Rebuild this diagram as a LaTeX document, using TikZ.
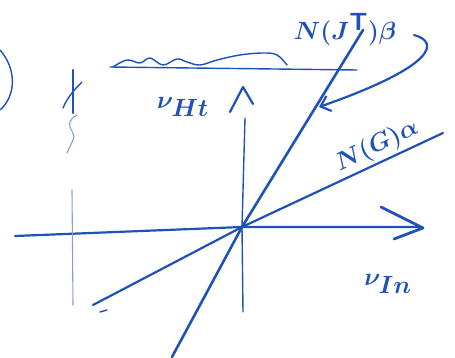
\documentclass[tikz,border=0pt]{standalone}
\usetikzlibrary{arrows.meta}
\definecolor{pen}{RGB}{30,82,182}
\begin{document}
\begin{tikzpicture}[x=1pt,y=-1pt,
  pen/.style={draw=pen, line width=2.2pt, line cap=round, line join=round},
  thinpen/.style={draw=pen, line width=1.4pt, line cap=round, line join=round},
  faintpen/.style={draw=pen!55, line width=1.1pt, line cap=round},
  lbl/.style={text=pen, inner sep=0pt, font=\fontsize{32}{34}\selectfont\boldmath}]
\useasboundingbox (0,0) rectangle (455,358);
% origin
\coordinate (O) at (242,227);
% horizontal axis
\coordinate (xl) at (15,236);
\coordinate (xr) at (420,227);
\draw[pen] (xl) -- (O) -- (xr);
\coordinate (xh1) at (381,207);
\coordinate (xht) at (423,228);
\coordinate (xh2) at (394,239);
\draw[pen, line width=2.8pt] (xh1) -- (xht) -- (xh2);
% vertical axis
\coordinate (yt) at (245,118);
\coordinate (yb) at (243,312);
\draw[thinpen] (yt) -- (O) -- (yb);
\coordinate (yh1) at (230,112);
\coordinate (yht) at (243,87);
\coordinate (yh2) at (253,104);
\draw[pen] (yh1) -- (yht) -- (yh2);
% steep line N(J^T) beta
\coordinate (sb) at (172,357);
\coordinate (st) at (363,30);
\draw[pen, line width=2.6pt] (sb) -- (O) -- (st);
% shallow line N(G) alpha
\coordinate (gb) at (93,305);
\coordinate (gt) at (443,133);
\draw[pen] (gb) -- (O) -- (gt);
% labels
\node[lbl, font=\fontsize{36}{38}\selectfont\boldmath] (jt) at (345,29) {$N(J^{\mathsf T})\beta$};
\node[lbl, rotate=26] (ga) at (377,146) {$N(G)\alpha$};
\node[lbl, font=\fontsize{40}{42}\selectfont\boldmath] (vh) at (183,107) {$\nu_{Ht}$};
\node[lbl, font=\fontsize{40}{42}\selectfont\boldmath] (vi) at (388,284) {$\nu_{In}$};
% curved arrow from label to steep line
\coordinate (as) at (414,35);
\coordinate (ae) at (319,107);
\draw[pen, -{Straight Barb[length=9pt,width=16pt,line width=2.2pt]}] (as) .. controls (440,42) and (436,66) .. (ae);
% top wavy line
\coordinate (wl) at (110,67);
\coordinate (wr) at (357,70);
\draw[thinpen] (wl) -- (wr);
\draw[thinpen] plot[smooth, tension=0.6] coordinates {(113,67) (127,60) (140,63) (150,58) (163,65) (177,59) (187,62) (200,65) (217,60) (240,55) (263,53) (277,55) (287,65)};
% left vertical mark
\coordinate (lt) at (73,70);
\coordinate (lm) at (73,113);
\draw[pen] (lt) -- (lm);
\draw[thinpen] (82,82) .. controls (76,88) and (68,96) .. (63,108);
\draw[faintpen] (77,115) .. controls (60,125) and (78,132) .. (73,140) .. controls (70,147) and (68,150) .. (67,153);
\coordinate (lb1) at (72,190);
\coordinate (lb2) at (73,305);
\draw[faintpen] (lb1) -- (lb2);
% small dash
\coordinate (d1) at (100,312);
\coordinate (d2) at (107,310);
\draw[thinpen] (d1) -- (d2);
% left bracket curve
\coordinate (b1) at (0,50);
\coordinate (b2) at (0,110);
\draw[thinpen] (b1) .. controls (16,68) and (17,95) .. (b2);
\end{tikzpicture}
\end{document}
